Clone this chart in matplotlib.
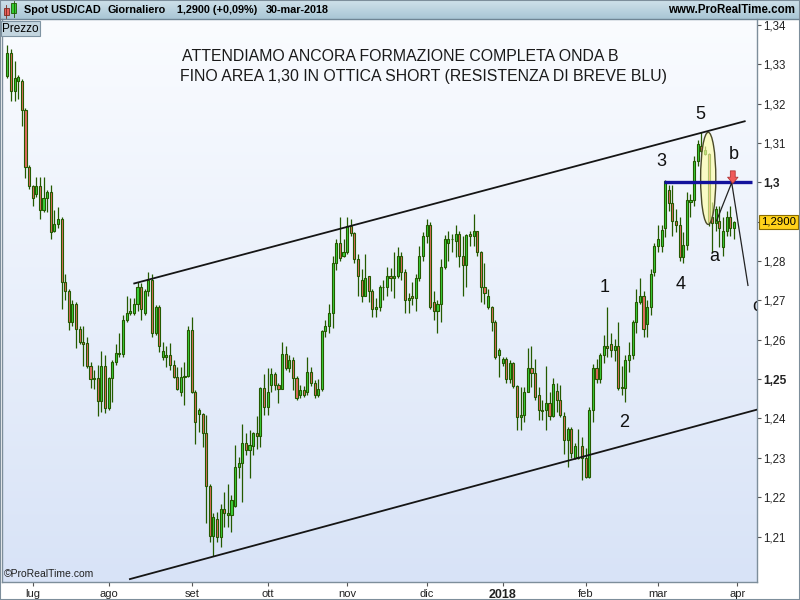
import numpy as np
import pandas as pd
import matplotlib
matplotlib.use("Agg")
import matplotlib.pyplot as plt
from matplotlib.colors import LinearSegmentedColormap
from matplotlib.patches import Ellipse, Rectangle
from matplotlib.transforms import blended_transform_factory

plt.rcParams['font.family'] = ['Liberation Sans', 'DejaVu Sans']

# Daily USD/CAD candles, 22 Jun 2017 -> 30 Mar 2018
opens = [
    1.3270, 1.3328, 1.3232, 1.3257, 1.3257, 1.3183, 1.3038, 1.2990, 1.2969, 1.2990,
    1.2929, 1.2959, 1.2975, 1.2875, 1.2893, 1.2908, 1.2746, 1.2725, 1.2646, 1.2692,
    1.2628, 1.2595, 1.2593, 1.2534, 1.2504, 1.2504, 1.2445, 1.2534, 1.2427, 1.2504,
    1.2544, 1.2565, 1.2565, 1.2649, 1.2669, 1.2667, 1.2692, 1.2735, 1.2669, 1.2725,
    1.2751, 1.2618, 1.2682, 1.2555, 1.2555, 1.2562, 1.2537, 1.2506, 1.2468, 1.2506,
    1.2509, 1.2626, 1.2468, 1.2412, 1.2412, 1.2364, 1.2229, 1.2102, 1.2145, 1.2099,
    1.2170, 1.2155, 1.2155, 1.2178, 1.2277, 1.2287, 1.2338, 1.2320, 1.2331, 1.2364,
    1.2356, 1.2478, 1.2430, 1.2486, 1.2514, 1.2486, 1.2476, 1.2565, 1.2529, 1.2549,
    1.2504, 1.2460, 1.2473, 1.2468, 1.2519, 1.2491, 1.2460, 1.2476, 1.2621, 1.2636,
    1.2669, 1.2794, 1.2847, 1.2812, 1.2822, 1.2888, 1.2870, 1.2804, 1.2751, 1.2712,
    1.2761, 1.2723, 1.2677, 1.2682, 1.2735, 1.2735, 1.2763, 1.2756, 1.2761, 1.2812,
    1.2771, 1.2702, 1.2710, 1.2705, 1.2756, 1.2812, 1.2863, 1.2891, 1.2695, 1.2674,
    1.2692, 1.2784, 1.2847, 1.2855, 1.2850, 1.2868, 1.2814, 1.2789, 1.2868, 1.2863,
    1.2875, 1.2824, 1.2735, 1.2684, 1.2684, 1.2646, 1.2560, 1.2542, 1.2552, 1.2501,
    1.2542, 1.2483, 1.2404, 1.2410, 1.2468, 1.2529, 1.2516, 1.2460, 1.2422, 1.2422,
    1.2440, 1.2407, 1.2471, 1.2448, 1.2407, 1.2346, 1.2374, 1.2300, 1.2300, 1.2331,
    1.2300, 1.2252, 1.2422, 1.2527, 1.2501, 1.2562, 1.2585, 1.2588, 1.2575, 1.2583,
    1.2478, 1.2478, 1.2549, 1.2562, 1.2646, 1.2695, 1.2712, 1.2639, 1.2682, 1.2771,
    1.2837, 1.2837, 1.2885, 1.2980, 1.2947, 1.2901, 1.2891, 1.2809, 1.2840, 1.2949,
    1.2954, 1.3053, 1.3092, 1.3071, 1.3071, 1.2913, 1.2896, 1.2901, 1.2835, 1.2875,
    1.2913, 1.2885,
]
highs = [
    1.3349, 1.3338, 1.3308, 1.3272, 1.3262, 1.3188, 1.3043, 1.2992, 1.3013, 1.3013,
    1.3013, 1.2980, 1.2992, 1.2929, 1.2936, 1.2913, 1.2768, 1.2730, 1.2700, 1.2697,
    1.2636, 1.2634, 1.2606, 1.2544, 1.2524, 1.2537, 1.2572, 1.2562, 1.2506, 1.2549,
    1.2588, 1.2616, 1.2664, 1.2712, 1.2705, 1.2705, 1.2746, 1.2743, 1.2728, 1.2773,
    1.2766, 1.2687, 1.2687, 1.2595, 1.2583, 1.2593, 1.2549, 1.2532, 1.2532, 1.2544,
    1.2634, 1.2659, 1.2473, 1.2427, 1.2415, 1.2410, 1.2234, 1.2160, 1.2163, 1.2183,
    1.2214, 1.2234, 1.2206, 1.2333, 1.2303, 1.2387, 1.2364, 1.2371, 1.2366, 1.2407,
    1.2480, 1.2514, 1.2527, 1.2527, 1.2519, 1.2491, 1.2595, 1.2583, 1.2562, 1.2555,
    1.2509, 1.2486, 1.2483, 1.2555, 1.2532, 1.2499, 1.2501, 1.2626, 1.2649, 1.2690,
    1.2814, 1.2855, 1.2913, 1.2857, 1.2913, 1.2908, 1.2873, 1.2817, 1.2779, 1.2817,
    1.2763, 1.2728, 1.2707, 1.2738, 1.2753, 1.2786, 1.2781, 1.2822, 1.2835, 1.2824,
    1.2779, 1.2720, 1.2746, 1.2768, 1.2837, 1.2873, 1.2906, 1.2898, 1.2723, 1.2702,
    1.2804, 1.2865, 1.2875, 1.2868, 1.2891, 1.2875, 1.2863, 1.2868, 1.2875, 1.2919,
    1.2877, 1.2826, 1.2794, 1.2728, 1.2686, 1.2651, 1.2580, 1.2557, 1.2555, 1.2549,
    1.2544, 1.2486, 1.2481, 1.2481, 1.2580, 1.2585, 1.2552, 1.2481, 1.2448, 1.2534,
    1.2468, 1.2504, 1.2491, 1.2486, 1.2417, 1.2379, 1.2379, 1.2338, 1.2374, 1.2354,
    1.2326, 1.2430, 1.2539, 1.2552, 1.2567, 1.2613, 1.2684, 1.2618, 1.2603, 1.2646,
    1.2534, 1.2562, 1.2595, 1.2651, 1.2728, 1.2758, 1.2723, 1.2702, 1.2779, 1.2845,
    1.2891, 1.2891, 1.3005, 1.2992, 1.2992, 1.2931, 1.2913, 1.2873, 1.2975, 1.2969,
    1.3066, 1.3107, 1.3127, 1.3092, 1.3074, 1.2949, 1.2939, 1.2939, 1.2913, 1.2926,
    1.2939, 1.2902,
]
lows = [
    1.3265, 1.3206, 1.3206, 1.3211, 1.3143, 1.3010, 1.2982, 1.2941, 1.2962, 1.2906,
    1.2924, 1.2924, 1.2855, 1.2873, 1.2885, 1.2677, 1.2700, 1.2626, 1.2634, 1.2578,
    1.2588, 1.2534, 1.2529, 1.2478, 1.2476, 1.2407, 1.2417, 1.2415, 1.2422, 1.2443,
    1.2537, 1.2555, 1.2557, 1.2644, 1.2662, 1.2662, 1.2672, 1.2649, 1.2662, 1.2710,
    1.2606, 1.2611, 1.2570, 1.2549, 1.2532, 1.2522, 1.2504, 1.2473, 1.2458, 1.2435,
    1.2506, 1.2465, 1.2336, 1.2366, 1.2328, 1.2135, 1.2086, 1.2051, 1.2086, 1.2074,
    1.2125, 1.2125, 1.2112, 1.2175, 1.2249, 1.2188, 1.2308, 1.2249, 1.2308, 1.2323,
    1.2328, 1.2410, 1.2410, 1.2466, 1.2473, 1.2440, 1.2474, 1.2524, 1.2519, 1.2473,
    1.2448, 1.2453, 1.2455, 1.2460, 1.2483, 1.2453, 1.2455, 1.2471, 1.2608, 1.2618,
    1.2631, 1.2776, 1.2801, 1.2809, 1.2817, 1.2863, 1.2796, 1.2710, 1.2697, 1.2710,
    1.2697, 1.2659, 1.2659, 1.2672, 1.2702, 1.2710, 1.2725, 1.2707, 1.2756, 1.2751,
    1.2669, 1.2669, 1.2687, 1.2672, 1.2748, 1.2799, 1.2847, 1.2677, 1.2649, 1.2618,
    1.2646, 1.2779, 1.2799, 1.2824, 1.2809, 1.2786, 1.2710, 1.2733, 1.2837, 1.2837,
    1.2812, 1.2695, 1.2690, 1.2677, 1.2621, 1.2552, 1.2506, 1.2534, 1.2491, 1.2491,
    1.2478, 1.2371, 1.2371, 1.2392, 1.2466, 1.2481, 1.2448, 1.2397, 1.2397, 1.2371,
    1.2397, 1.2404, 1.2417, 1.2404, 1.2310, 1.2277, 1.2300, 1.2298, 1.2298, 1.2244,
    1.2249, 1.2249, 1.2392, 1.2491, 1.2491, 1.2542, 1.2555, 1.2555, 1.2547, 1.2473,
    1.2460, 1.2443, 1.2519, 1.2552, 1.2618, 1.2690, 1.2608, 1.2608, 1.2664, 1.2763,
    1.2822, 1.2822, 1.2860, 1.2926, 1.2863, 1.2873, 1.2801, 1.2796, 1.2829, 1.2913,
    1.2939, 1.3041, 1.3076, 1.3069, 1.2888, 1.2824, 1.2875, 1.2835, 1.2812, 1.2863,
    1.2863, 1.2857,
]
closes = [
    1.3328, 1.3232, 1.3265, 1.3267, 1.3183, 1.3038, 1.2990, 1.2959, 1.2990, 1.2929,
    1.2959, 1.2975, 1.2873, 1.2893, 1.2908, 1.2746, 1.2725, 1.2646, 1.2692, 1.2628,
    1.2595, 1.2590, 1.2534, 1.2501, 1.2501, 1.2445, 1.2534, 1.2427, 1.2504, 1.2544,
    1.2567, 1.2567, 1.2649, 1.2669, 1.2672, 1.2692, 1.2735, 1.2677, 1.2725, 1.2751,
    1.2618, 1.2682, 1.2583, 1.2572, 1.2562, 1.2537, 1.2506, 1.2476, 1.2506, 1.2509,
    1.2626, 1.2468, 1.2392, 1.2422, 1.2364, 1.2229, 1.2102, 1.2150, 1.2099, 1.2170,
    1.2160, 1.2160, 1.2193, 1.2277, 1.2287, 1.2338, 1.2320, 1.2333, 1.2364, 1.2356,
    1.2478, 1.2430, 1.2466, 1.2514, 1.2486, 1.2476, 1.2565, 1.2529, 1.2549, 1.2504,
    1.2453, 1.2473, 1.2460, 1.2519, 1.2491, 1.2460, 1.2476, 1.2621, 1.2636, 1.2669,
    1.2794, 1.2847, 1.2807, 1.2822, 1.2888, 1.2870, 1.2804, 1.2761, 1.2712, 1.2758,
    1.2723, 1.2677, 1.2682, 1.2733, 1.2733, 1.2763, 1.2756, 1.2761, 1.2812, 1.2771,
    1.2702, 1.2707, 1.2705, 1.2756, 1.2812, 1.2863, 1.2891, 1.2682, 1.2674, 1.2692,
    1.2784, 1.2855, 1.2855, 1.2857, 1.2868, 1.2814, 1.2789, 1.2865, 1.2863, 1.2875,
    1.2824, 1.2735, 1.2720, 1.2712, 1.2644, 1.2557, 1.2575, 1.2552, 1.2501, 1.2542,
    1.2483, 1.2404, 1.2410, 1.2468, 1.2529, 1.2516, 1.2455, 1.2422, 1.2420, 1.2440,
    1.2407, 1.2488, 1.2448, 1.2410, 1.2346, 1.2374, 1.2313, 1.2331, 1.2303, 1.2300,
    1.2252, 1.2422, 1.2529, 1.2501, 1.2562, 1.2585, 1.2578, 1.2575, 1.2583, 1.2478,
    1.2480, 1.2549, 1.2562, 1.2646, 1.2695, 1.2710, 1.2628, 1.2682, 1.2768, 1.2837,
    1.2855, 1.2880, 1.3003, 1.2947, 1.2901, 1.2891, 1.2809, 1.2840, 1.2954, 1.2954,
    1.3053, 1.3097, 1.3079, 1.3081, 1.2898, 1.2896, 1.2931, 1.2885, 1.2875, 1.2913,
    1.2885, 1.2900,
]

days = pd.bdate_range(end="2018-03-30", periods=len(closes))
axis_days = pd.bdate_range(days[0], "2018-04-06")
month_starts = ["2017-07-01", "2017-08-01", "2017-09-01", "2017-10-01", "2017-11-01",
                "2017-12-01", "2018-01-01", "2018-02-01", "2018-03-01", "2018-04-01"]
month_labels = ["lug", "ago", "set", "ott", "nov", "dic", "2018", "feb", "mar", "apr"]

y_ticks = [1.21, 1.22, 1.23, 1.24, 1.25, 1.26, 1.27, 1.28, 1.29, 1.30, 1.31, 1.32, 1.33, 1.34]
y_labels = ["1,21", "1,22", "1,23", "1,24", "1,25", "1,26", "1,27", "1,28", "",
            "1,3", "1,31", "1,32", "1,33", "1,34"]
last_price = 1.2900

# drawn trend lines (bar index, price)
upper_x, upper_y = [35.1, 204.0], [1.2743, 1.3155]
lower_x, lower_y = [33.9, 207.2], [1.1992, 1.2422]
resist_x, resist_y = [181.6, 206.0], 1.3000
proj_x, proj_y = [196.2, 200.4, 204.9], [1.2902, 1.2999, 1.2738]
wave_labels = ["1", "2", "3", "4", "5", "a", "b", "c"]
wave_x = [165.3, 170.6, 180.8, 186.3, 191.6, 195.7, 201.0, 207.3]
wave_y = [1.2733, 1.2389, 1.3053, 1.2740, 1.3173, 1.2812, 1.3071, 1.2684]

GREEN = "#3BD23B"
RED = "#E36B60"
EDGE = "#245A00"

fig = plt.figure(figsize=(8, 6), dpi=100, facecolor="white")

# ---- header bar
hax = fig.add_axes([0, 581 / 600, 1, 19 / 600])
hgrad = np.linspace(0, 1, 64).reshape(-1, 1)
hax.imshow(hgrad, cmap=LinearSegmentedColormap.from_list("h", ["#CFE1EA", "#A9C6D5"]),
           extent=[0, 800, 19, 0], aspect="auto")
hax.set_xlim(0, 800)
hax.set_ylim(19, 0)
hax.axis("off")
hax.add_patch(Rectangle((3.5, 8), 5, 7, fc="#E8605A", ec="#7A2A20", lw=0.6))
hax.plot([6, 6], [5, 18], color="#7A2A20", lw=0.6)
hax.add_patch(Rectangle((11, 3), 5, 10, fc="#33CC33", ec="#1E5A00", lw=0.6))
hax.plot([13.5, 13.5], [1, 17], color="#1E5A00", lw=0.6)
for txt, px in [("Spot USD/CAD", 24), ("Giornaliero", 107),
                ("1,2900 (+0,09%)", 177), ("30-mar-2018", 266)]:
    hax.text(px, 10, txt, fontsize=7.8, fontweight="bold", va="center", ha="left")
hax.text(795, 10, "www.ProRealTime.com", fontsize=8.3, fontweight="bold",
         va="center", ha="right")

# ---- price panel
ax = fig.add_axes([2 / 800, 18 / 600, 755 / 800, 563 / 600])
grad = np.linspace(0, 1, 256).reshape(-1, 1)
ax.imshow(grad, cmap=LinearSegmentedColormap.from_list("bg", ["#FAFCFF", "#D8E3F7"]),
          extent=[0, 1, 0, 1], transform=ax.transAxes, aspect="auto", zorder=0)

o = np.array(opens)
h = np.array(highs)
l = np.array(lows)
c = np.array(closes)
x = np.arange(len(c))
up = c >= o
bottom = np.minimum(o, c)
height = np.maximum(np.abs(c - o), 0.00018)

ax.vlines(x, l, h, color=EDGE, lw=0.9, zorder=2)
ax.bar(x[up], height[up], bottom=bottom[up], width=0.58, color=GREEN,
       edgecolor=EDGE, linewidth=0.8, zorder=3)
ax.bar(x[~up], height[~up], bottom=bottom[~up], width=0.58, color=RED,
       edgecolor=EDGE, linewidth=0.8, zorder=3)

# annotations
ax.plot(upper_x, upper_y, color="#151515", lw=1.3, zorder=5)
ax.plot(lower_x, lower_y, color="#151515", lw=1.3, zorder=5)
ax.add_patch(Ellipse((193.9, 1.3010), 4.2, 0.0234, facecolor=(1, 1, 0.66, 0.65),
                     edgecolor="#4A4A28", lw=1.0, zorder=4))
ax.hlines(resist_y, resist_x[0], resist_x[1], color="#12129C", lw=2.4, zorder=6)
ax.plot(proj_x, proj_y, color="#222222", lw=0.9, zorder=6)
ax.annotate("", xy=(200.7, 1.2997), xytext=(200.7, 1.3029),
            arrowprops=dict(arrowstyle="simple,head_width=0.75,head_length=0.45,tail_width=0.35",
                            fc="#F05A5A", ec="#B03535", lw=0.6, shrinkA=0, shrinkB=0),
            zorder=7)
for lab, wx, wy in zip(wave_labels, wave_x, wave_y):
    ax.text(wx, wy, lab, fontsize=13, ha="center", va="center", color="#111111",
            clip_on=True, zorder=8)

ax.text(0.238, 0.934, "ATTENDIAMO ANCORA FORMAZIONE COMPLETA ONDA B",
        transform=ax.transAxes, fontsize=11.4, va="center", ha="left", color="#1A1A1A")
ax.text(0.236, 0.898, "FINO AREA 1,30 IN OTTICA SHORT (RESISTENZA DI BREVE BLU)",
        transform=ax.transAxes, fontsize=11.4, va="center", ha="left", color="#1A1A1A")
ax.text(0.003, 0.0135, "\u00a9ProRealTime.com", transform=ax.transAxes, fontsize=7.5,
        va="center", ha="left", color="#222222")
ax.text(0.0, 0.9935, "Prezzo", transform=ax.transAxes, fontsize=8.5, va="top",
        ha="left", bbox=dict(boxstyle="square,pad=0.12", fc="#C3D5DF", ec="#7E93A2", lw=0.8),
        zorder=9)

ax.set_xlim(-1.49, 207.4)
ax.set_ylim(1.19846, 1.34148)

tick_idx = [int(axis_days.searchsorted(pd.Timestamp(m))) for m in month_starts]
ax.set_xticks(tick_idx)
ax.set_xticklabels(month_labels)
ax.tick_params(axis="x", direction="out", length=3, width=0.8, color="#555555",
               labelsize=8, pad=2, labelcolor="#222222")
for t in ax.get_xticklabels():
    if t.get_text() == "2018":
        t.set_fontweight("bold")
        t.set_fontsize(9)

ax.yaxis.tick_right()
ax.set_yticks(y_ticks)
ax.set_yticklabels(y_labels)
ax.tick_params(axis="y", direction="out", length=3, width=0.8, color="#555555",
               labelsize=8.3, pad=1.5, labelcolor="#222222")
for t in ax.get_yticklabels():
    if t.get_text() in ("1,3", "1,25"):
        t.set_fontweight("bold")
        t.set_fontsize(8.6)

trans = blended_transform_factory(ax.transAxes, ax.transData)
ax.text(1.0053, last_price, "1,2900", transform=trans, fontsize=8.2, va="center", ha="left",
        bbox=dict(boxstyle="square,pad=0.18", fc="#FFD21A", ec="#8A6D00", lw=0.8),
        clip_on=False, zorder=10)

for side in ("left", "right", "bottom"):
    ax.spines[side].set_color("#7D8E9B")
    ax.spines[side].set_linewidth(1.0)
ax.spines["top"].set_visible(False)

fig.add_artist(Rectangle((0, 0), 1, 1, transform=fig.transFigure, fill=False,
                         ec="#7D8E9B", lw=1.5))
fig.add_artist(plt.Line2D([0, 1], [581 / 600, 581 / 600], transform=fig.transFigure,
                          color="#6F8594", lw=1.0))

fig.savefig("out.png", dpi=100)
